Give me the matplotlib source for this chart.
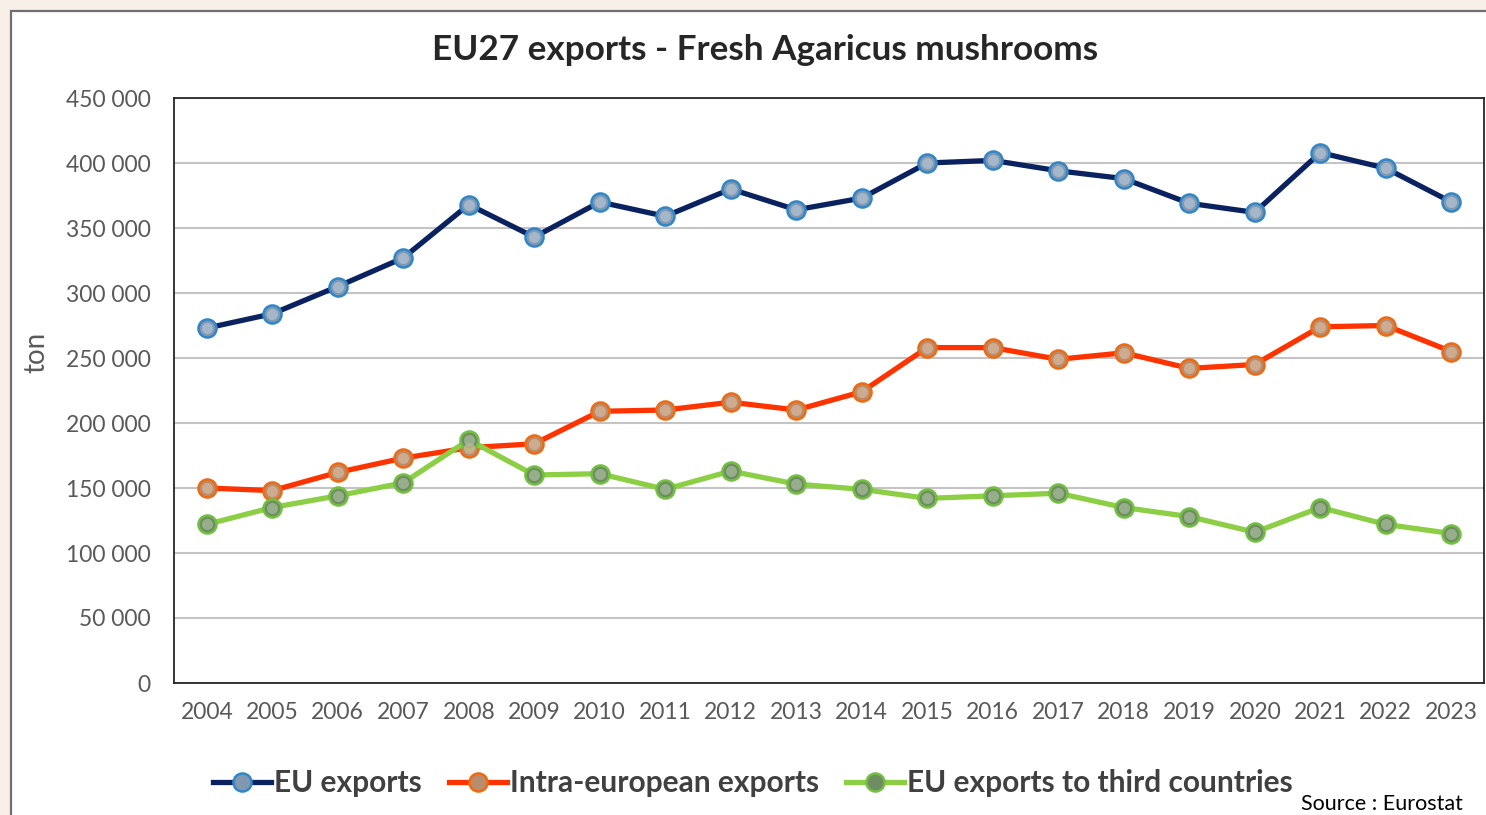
import matplotlib
matplotlib.use("Agg")
import matplotlib.pyplot as plt
from matplotlib.patches import Rectangle
from matplotlib.ticker import FuncFormatter

plt.rcParams['font.family'] = ['Lato', 'DejaVu Sans']

years = [str(y) for y in range(2004, 2024)]
eu_exports = [273000, 284000, 305000, 327000, 368000, 343000, 370000, 359000, 380000, 364000,
              373000, 400000, 402000, 394000, 388000, 369000, 362000, 408000, 396000, 370000]
intra_exports = [150000, 148000, 162000, 173000, 181000, 184000, 209000, 210000, 216000, 210000,
                 224000, 258000, 258000, 249000, 254000, 242000, 245000, 274000, 275000, 255000]
third_exports = [122000, 135000, 144000, 154000, 187000, 160000, 161000, 149000, 163000, 153000,
                 149000, 142000, 144000, 146000, 135000, 128000, 116000, 135000, 122000, 115000]

series = [
    ("EU exports", eu_exports, "#0a2360", "#8198b0", "#2f86c8", "#b4c4d4"),
    ("Intra-european exports", intra_exports, "#ff3300", "#b88c6c", "#ee6a12", "#d8b89e"),
    ("EU exports to third countries", third_exports, "#8ccf45", "#6f8c62", "#72c040", "#a7bd9b"),
]

fig = plt.figure(figsize=(14.86, 8.15), dpi=100)
fig.patch.set_facecolor("#f8f0e8")
# white chart card with grey frame
fig.patches.append(Rectangle((11 / 1486, -0.05), 1.1, 1 - 11 / 815 + 0.05,
                             transform=fig.transFigure, facecolor="white",
                             edgecolor="#6e6e6e", linewidth=1.6, zorder=-5))

ax = fig.add_axes([174 / 1486, 1 - 683 / 815, 1310 / 1486, 585 / 815])
x = range(len(years))
handles = []
for name, vals, lc, fc, ec, hc in series:
    h, = ax.plot(x, vals, color=lc, linewidth=3.8, marker="o", markersize=13,
                 markerfacecolor=fc, markeredgecolor=ec, markeredgewidth=1.8,
                 label=name, zorder=3)
    # soft highlight to give the markers a glossy look
    ax.plot(x, vals, linestyle="none", marker="o", markersize=8,
            markerfacecolor=hc, markeredgewidth=0, alpha=0.7, zorder=4)
    handles.append(h)

ax.set_xlim(-0.5, len(years) - 0.5)
ax.set_ylim(0, 450000)
ax.set_yticks(range(0, 450001, 50000))
ax.yaxis.set_major_formatter(FuncFormatter(lambda v, p: f"{int(v):,}".replace(",", " ")))
ax.set_xticks(list(x))
ax.set_xticklabels(years)
ax.grid(axis="y", color="#c4c4c4", linewidth=1.5)
ax.set_axisbelow(True)
ax.tick_params(length=0, labelsize=16.5, labelcolor="#595959")
ax.tick_params(axis="y", pad=17)
ax.tick_params(axis="x", pad=14)
for s in ax.spines.values():
    s.set_color("#262626")
    s.set_linewidth(1.3)

fig.text(36 / 1486, 1 - 352 / 815, "ton", rotation=90, ha="center", va="center",
         fontsize=20, color="#595959")
fig.text(765 / 1486, 1 - 50 / 815, "EU27 exports - Fresh Agaricus mushrooms",
         ha="center", va="center", fontsize=25.3, fontweight="bold", color="#262626")

leg = fig.legend(handles=handles, loc="center left", ncol=3,
                 bbox_to_anchor=(186 / 1486, 1 - 783 / 815), frameon=False,
                 fontsize=21.5, handlelength=1.95, handletextpad=0.1, columnspacing=0.9)
for t in leg.get_texts():
    t.set_fontweight("bold")
    t.set_color("#404040")

fig.text(1463 / 1486, 1 - 804 / 815, "Source : Eurostat", ha="right", va="center",
         fontsize=15.5, color="#000000")

fig.savefig("out.png", dpi=100)
